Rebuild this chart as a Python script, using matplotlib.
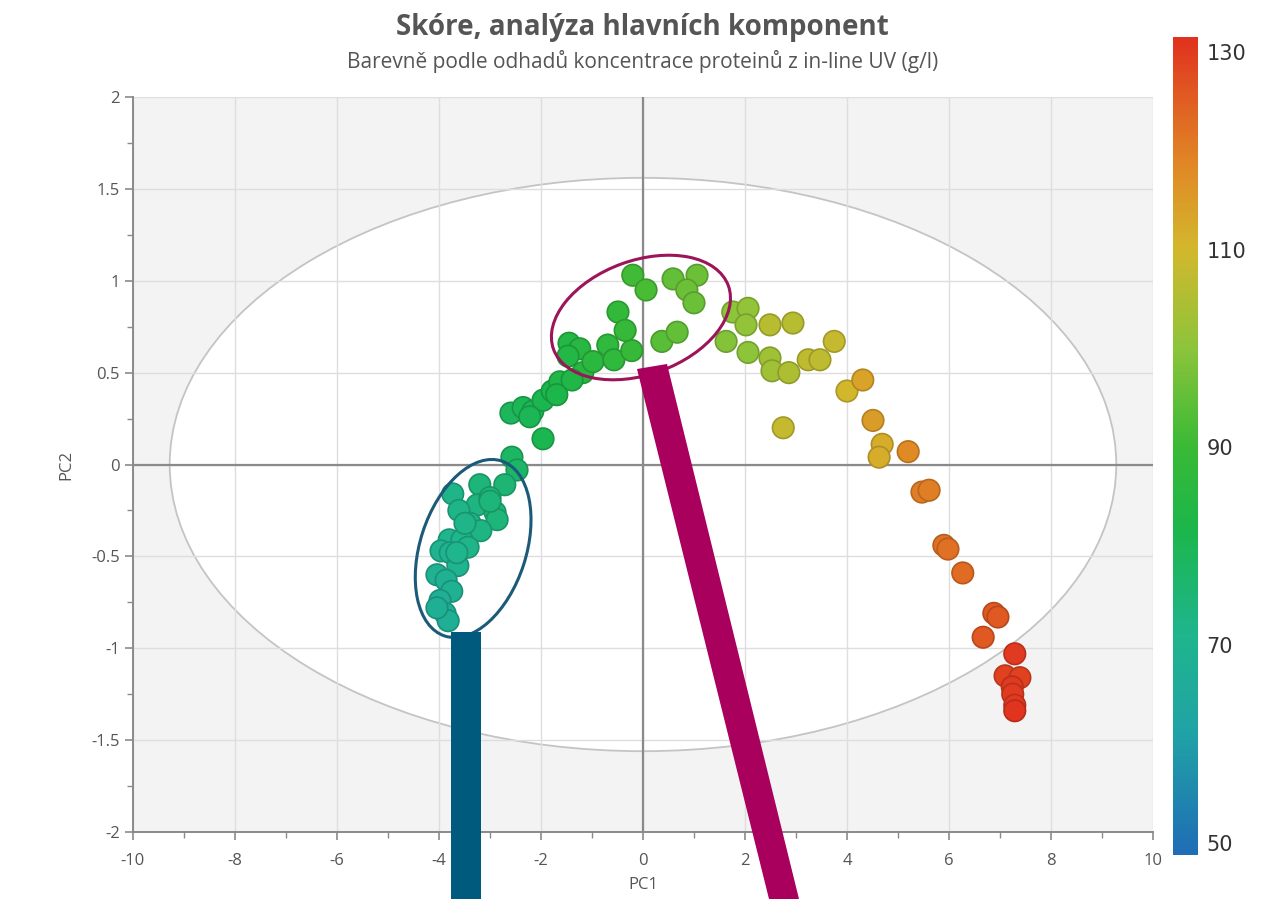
import numpy as np
import matplotlib
matplotlib.use("Agg")
import matplotlib.pyplot as plt
from matplotlib.colors import LinearSegmentedColormap, Normalize
from matplotlib.patches import Ellipse, Polygon
from matplotlib.ticker import MultipleLocator

plt.rcParams['font.family'] = ['Open Sans', 'DejaVu Sans']
plt.rcParams['axes.unicode_minus'] = False

# PCA scores, coloured by protein concentration (g/l)
pc1 = [-2.57, -2.47, -2.71, -3.20, -3.73, -3.25, -3.61, -2.90, -2.86, -3.39,
       -3.18, -3.80, -3.55, -3.43, -3.96, -3.78, -3.63, -4.04, -3.86, -3.75,
       -3.98, -3.88, -3.82, -3.00, -3.00, -3.49, -3.65, -4.04,
       -2.59, -2.35, -2.16, -1.96, -1.78, -1.96, -1.63, -1.18, -1.45, -1.24,
       -1.47, -0.98, -0.69, -0.57, -0.22, -0.49, -0.35, -0.20, 0.06, 0.37,
       0.67, 0.59, 1.06, 0.86, 1.00, -2.22, -1.69, -1.39,
       1.76, 2.06, 2.02, 1.63, 2.06, 2.49, 2.94, 2.49, 2.53, 2.86,
       3.24, 3.47, 3.75, 4.00, 4.31, 2.75, 4.51, 4.69, 4.63, 5.20,
       5.47, 5.61, 5.90, 5.98, 6.27, 6.88, 6.96, 6.67, 7.29, 7.10,
       7.39, 7.24, 7.25, 7.29, 7.29]
pc2 = [0.04, -0.03, -0.11, -0.11, -0.16, -0.22, -0.25, -0.26, -0.30, -0.32,
       -0.36, -0.41, -0.41, -0.45, -0.47, -0.48, -0.55, -0.60, -0.63, -0.69,
       -0.74, -0.81, -0.85, -0.18, -0.20, -0.32, -0.48, -0.78,
       0.28, 0.31, 0.29, 0.35, 0.40, 0.14, 0.45, 0.50, 0.66, 0.63,
       0.59, 0.56, 0.65, 0.57, 0.62, 0.83, 0.73, 1.03, 0.95, 0.67,
       0.72, 1.01, 1.03, 0.95, 0.88, 0.26, 0.38, 0.46,
       0.83, 0.85, 0.76, 0.67, 0.61, 0.76, 0.77, 0.58, 0.51, 0.50,
       0.57, 0.57, 0.67, 0.40, 0.46, 0.20, 0.24, 0.11, 0.04, 0.07,
       -0.15, -0.14, -0.44, -0.46, -0.59, -0.81, -0.83, -0.94, -1.03, -1.15,
       -1.16, -1.21, -1.25, -1.31, -1.34]
conc = [78, 77, 75, 74, 72, 73, 72, 74, 74, 72,
        73, 71, 71, 72, 70, 70, 70, 69, 69, 69,
        68, 68, 68, 74, 74, 72, 71, 68,
        79, 80, 80, 81, 82, 81, 83, 85, 84, 85,
        84, 86, 87, 87, 89, 88, 89, 91, 92, 94,
        95, 95, 96, 96, 96, 80, 82, 83,
        100, 101, 101, 99, 100, 106, 106, 103, 103, 105,
        107, 107, 108, 110, 114, 108, 115, 112, 112, 118,
        120, 120, 122, 122, 123, 126, 126, 126, 130, 129,
        129, 130, 130, 130, 131]

# Hotelling T2 ellipse radii
t2_a = 9.28
t2_b = 1.56

cbar_ticks = [50, 70, 90, 110, 130]

cmap = LinearSegmentedColormap.from_list("conc", [
    (0.00, "#1f6db5"), (0.15, "#20a3a6"), (0.27, "#1fb58c"),
    (0.40, "#1cb64a"), (0.50, "#3aba35"), (0.62, "#8cc43a"),
    (0.74, "#d2b82c"), (0.84, "#e08a26"), (0.93, "#e05a22"),
    (1.00, "#e0321f")])
norm = Normalize(vmin=48.8, vmax=131.5)

fig = plt.figure(figsize=(12.75, 8.99), dpi=100)
ax = fig.add_axes([0.1043, 0.0745, 0.80, 0.8176])
ax.set_facecolor("#f3f3f3")
ax.set_xlim(-10, 10)
ax.set_ylim(-2, 2)
ax.set_axisbelow(True)

ax.add_patch(Ellipse((0, 0), 2 * t2_a, 2 * t2_b, facecolor="white",
                     edgecolor="#c4c4c4", lw=1.3, zorder=0.2))
ax.grid(True, which="major", color="#dedede", lw=1.0)
ax.axhline(0, color="#8a8a8a", lw=1.6, zorder=1)
ax.axvline(0, color="#8a8a8a", lw=1.6, zorder=1)

face = cmap(norm(np.array(conc)))
edge = face.copy()
edge[:, :3] *= 0.82
ax.scatter(pc1, pc2, s=240, c=face, edgecolors=edge, linewidths=1.2, zorder=3)

ax.xaxis.set_major_locator(MultipleLocator(2))
ax.xaxis.set_minor_locator(MultipleLocator(1))
ax.yaxis.set_major_locator(MultipleLocator(0.5))
ax.yaxis.set_minor_locator(MultipleLocator(0.25))
ax.yaxis.set_major_formatter(lambda v, p: f"{v:g}")
ax.tick_params(which="both", colors="#8a8a8a", labelcolor="#555555",
               labelsize=12, direction="out")
ax.tick_params(which="major", length=6, width=1.2)
ax.tick_params(which="minor", length=4, width=1.0)
ax.tick_params(axis="x", which="major", pad=9)
for s in ["top", "right"]:
    ax.spines[s].set_visible(False)
for s in ["left", "bottom"]:
    ax.spines[s].set_color("#8a8a8a")
    ax.spines[s].set_linewidth(1.4)
ax.set_xlabel("PC1", fontsize=12, color="#555555", labelpad=6)
ax.set_ylabel("PC2", fontsize=12, color="#555555", labelpad=12)

# colour bar
cax = fig.add_axes([0.920, 0.0489, 0.0196, 0.910])
sm = plt.cm.ScalarMappable(norm=norm, cmap=cmap)
cb = fig.colorbar(sm, cax=cax, ticks=cbar_ticks)
cb.outline.set_visible(False)
cax.tick_params(length=0, labelsize=15, labelcolor="#333333", pad=6)
for t in cax.get_yticklabels():
    t.set_family("DejaVu Sans")

fig.text(0.504, 0.969, "Skóre, analýza hlavních komponent", ha="center",
         va="center", fontsize=20, fontweight="bold", color="#555555")
fig.text(0.504, 0.932, "Barevně podle odhadů koncentrace proteinů z in-line UV (g/l)",
         ha="center", va="center", fontsize=15, color="#555555")

# highlight ellipses and callout bars (pixel sizes, centred on data points)
def px_to_in(xp, yp):
    return xp / fig.dpi, yp / fig.dpi

fig.canvas.draw()
for (cx, cy), w, h, ang, col in [((-3.33, -0.457), 184, 106, 72, "#1b5a78"),
                                 ((-0.04, 0.80), 186, 114, 20, "#9c1559")]:
    dx, dy = ax.transData.transform((cx, cy))
    fig.add_artist(Ellipse(px_to_in(dx, dy), w / fig.dpi, h / fig.dpi, angle=ang,
                           fill=False, edgecolor=col, lw=2.2,
                           transform=fig.dpi_scale_trans, zorder=5))

W, H = 1275, 899
blue_bar = [(451, 632), (481, 632), (481, 899), (451, 899)]
mag_bar = [(637, 369), (667, 364), (799, 899), (769, 899)]
for pts, col in [(blue_bar, "#005a7e"), (mag_bar, "#a8005c")]:
    fig.add_artist(Polygon([(x / W, 1 - y / H) for x, y in pts], closed=True,
                           facecolor=col, edgecolor="none",
                           transform=fig.transFigure, zorder=6))

fig.savefig("out.png", dpi=100)
